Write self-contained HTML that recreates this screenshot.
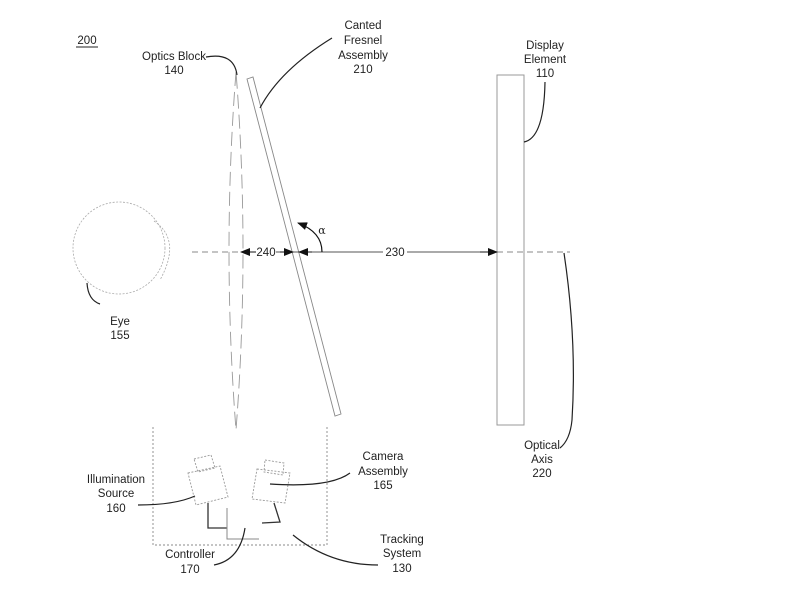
<!DOCTYPE html>
<html><head><style>
html,body{margin:0;padding:0;background:#fff;}
svg{display:block;}
text{font-family:"Liberation Sans",sans-serif;font-size:11.5px;fill:#222;text-anchor:middle;}
</style></head><body>
<svg width="787" height="607" viewBox="0 0 787 607" xmlns="http://www.w3.org/2000/svg">
<defs>
<marker id="ar" markerWidth="10" markerHeight="8" refX="9" refY="4" orient="auto" markerUnits="userSpaceOnUse"><path d="M0,0 L10,4 L0,8 z" fill="#111"/></marker>
</defs>
<text x="87" y="44">200</text>
<line x1="76" y1="47" x2="98" y2="47" stroke="#222" stroke-width="1"/>

<!-- eye -->
<circle cx="119" cy="248" r="46" fill="none" stroke="#aaa" stroke-width="0.8" stroke-dasharray="2,1.5"/>
<path d="M154,221 Q182,240 160,280" fill="none" stroke="#aaa" stroke-width="0.8" stroke-dasharray="2,1.5"/>
<path d="M87,283 Q88,300 100,304" fill="none" stroke="#222" stroke-width="1.2"/>
<text x="120" y="325">Eye</text><text x="120" y="339">155</text>

<!-- optics block -->
<path d="M236,72 Q222,250 236,430 Q250,250 236,72" fill="none" stroke="#999" stroke-width="0.9" stroke-dasharray="14,6"/>
<text x="174" y="60">Optics Block</text><text x="174" y="74">140</text>
<path d="M206,57 Q234,52 237,75" fill="none" stroke="#222" stroke-width="1.2"/>

<!-- fresnel -->
<path d="M247,79 L253,77 L341,414 L335,416 Z" fill="none" stroke="#888" stroke-width="0.9"/>
<text x="363" y="29">Canted</text><text x="363" y="44">Fresnel</text><text x="363" y="59">Assembly</text><text x="363" y="73">210</text>
<path d="M332,38 Q280,70 260,108" fill="none" stroke="#222" stroke-width="1.2"/>

<!-- display -->
<rect x="497" y="75" width="27" height="350" fill="none" stroke="#999" stroke-width="1"/>
<text x="545" y="49">Display</text><text x="545" y="63">Element</text><text x="545" y="77">110</text>
<path d="M545,82 Q544,138 524,142" fill="none" stroke="#222" stroke-width="1.2"/>

<!-- optical axis -->
<line x1="192" y1="252" x2="240" y2="252" stroke="#888" stroke-width="1" stroke-dasharray="6,4"/>
<line x1="497" y1="252" x2="570" y2="252" stroke="#888" stroke-width="1" stroke-dasharray="6,4"/>
<line x1="242" y1="252" x2="495" y2="252" stroke="#555" stroke-width="1"/>
<line x1="256" y1="252" x2="241" y2="252" stroke="#111" marker-end="url(#ar)"/>
<line x1="280" y1="252" x2="293" y2="252" stroke="#111" marker-end="url(#ar)"/>
<line x1="312" y1="252" x2="299" y2="252" stroke="#111" marker-end="url(#ar)"/>
<line x1="480" y1="252" x2="497" y2="252" stroke="#111" marker-end="url(#ar)"/>
<rect x="256" y="245" width="20" height="13" fill="#fff"/>
<text x="266" y="256">240</text>
<rect x="383" y="245" width="24" height="13" fill="#fff"/>
<text x="395" y="256">230</text>
<path d="M322,252 Q322,232 298,223" fill="none" stroke="#111" stroke-width="1.2" marker-end="url(#ar)"/>
<text x="322" y="234" style="font-family:'DejaVu Serif',serif;font-size:11px">α</text>
<path d="M564,253 Q577,340 572,420 Q570,440 560,448" fill="none" stroke="#222" stroke-width="1.2"/>
<text x="542" y="449">Optical</text><text x="542" y="463">Axis</text><text x="542" y="477">220</text>

<!-- tracking box -->
<path d="M153,427 L153,545 L327,545 L327,427" fill="none" stroke="#888" stroke-width="0.9" stroke-dasharray="2,2"/>
<path d="M188,473 L220,466 L228,497 L196,505 Z" fill="none" stroke="#999" stroke-width="0.9" stroke-dasharray="2,1.5"/>
<path d="M194,459 L211,455 L215,468 L198,472 Z" fill="none" stroke="#999" stroke-width="0.9" stroke-dasharray="2,1.5"/>
<path d="M257,469 L290,473 L285,503 L252,499 Z" fill="none" stroke="#999" stroke-width="0.9" stroke-dasharray="2,1.5"/>
<path d="M265,460 L284,463 L283,475 L264,472 Z" fill="none" stroke="#999" stroke-width="0.9" stroke-dasharray="2,1.5"/>
<path d="M208,503 L208,528 L227,528" fill="none" stroke="#333" stroke-width="1.3"/>
<path d="M227,508 L227,539 L259,539" fill="none" stroke="#888" stroke-width="1"/>
<path d="M274,503 L280,522 L262,523" fill="none" stroke="#333" stroke-width="1.3"/>

<text x="116" y="483">Illumination</text><text x="116" y="497">Source</text><text x="116" y="512">160</text>
<path d="M138,505 Q175,505 195,496" fill="none" stroke="#222" stroke-width="1.2"/>
<text x="383" y="460">Camera</text><text x="383" y="475">Assembly</text><text x="383" y="489">165</text>
<path d="M350,473 Q330,488 270,484" fill="none" stroke="#222" stroke-width="1.2"/>
<text x="190" y="558">Controller</text><text x="190" y="573">170</text>
<path d="M214,565 Q240,560 245,528" fill="none" stroke="#222" stroke-width="1.2"/>
<text x="402" y="543">Tracking</text><text x="402" y="557">System</text><text x="402" y="572">130</text>
<path d="M293,535 Q330,565 378,565" fill="none" stroke="#222" stroke-width="1.2"/>
</svg>
</body></html>
